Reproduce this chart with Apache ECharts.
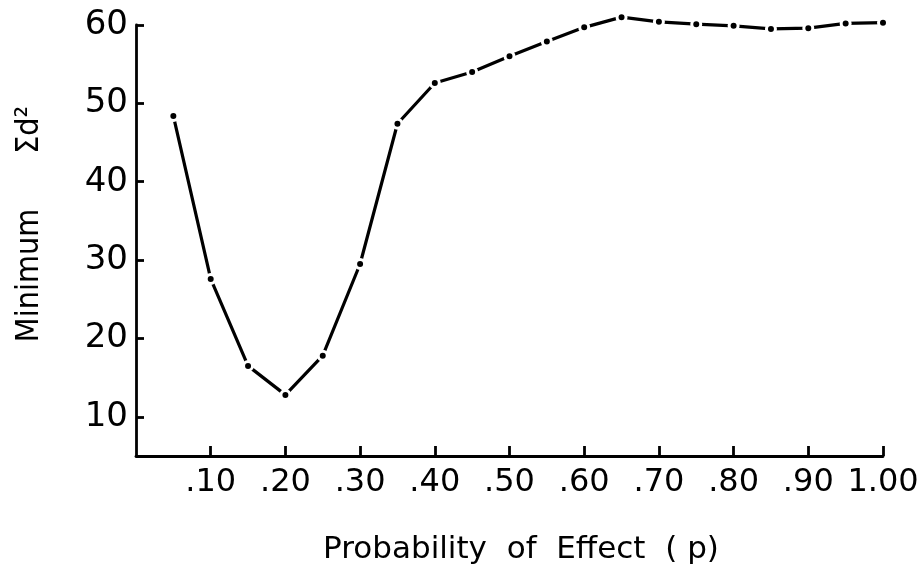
<!DOCTYPE html>
<html>
<head>
<meta charset="utf-8">
<script src="https://cdn.jsdelivr.net/npm/echarts@6/dist/echarts.min.js"></script>
<style>
html,body{margin:0;padding:0;background:#fff;}
#chart{width:923px;height:588px;}
</style>
</head>
<body>
<div id="chart"></div>
<script>
// Data
const probabilities = [0.05,0.10,0.15,0.20,0.25,0.30,0.35,0.40,0.45,0.50,0.55,0.60,0.65,0.70,0.75,0.80,0.85,0.90,0.95,1.00];
const minSumD2 = [48.4,27.6,16.5,12.8,17.8,29.5,47.4,52.6,54.0,56.0,57.9,59.7,61.0,60.4,60.1,59.9,59.5,59.6,60.2,60.3];
const xTickValues = [0.1,0.2,0.3,0.4,0.5,0.6,0.7,0.8,0.9,1.0];
const xTickLabels = ['.10','.20','.30','.40','.50','.60','.70','.80','.90','1.00'];
const yTickValues = [10,20,30,40,50,60];
const yTickLabels = ['10','20','30','40','50','60'];
const xTitle = 'Probability  of  Effect  ( p)';
const yTitle = 'Minimum      Σd²';

const seriesData = probabilities.map((p, i) => [p, minSumD2[i]]);
function lookup(values, labels, v) {
  let best = 0;
  for (let i = 0; i < values.length; i++) {
    if (Math.abs(values[i] - v) < Math.abs(values[best] - v)) best = i;
  }
  return labels[best];
}

const chart = echarts.init(document.getElementById('chart'), null, {renderer: 'canvas'});
const FONT = '"DejaVu Sans", sans-serif';
const COND = '"DejaVu Sans Condensed", "Liberation Sans Narrow", "DejaVu Sans", sans-serif';
chart.setOption({
  backgroundColor: '#fff',
  animation: false,
  grid: {left: 136, right: 40, top: 25, bottom: 132},
  xAxis: {
    type: 'value', min: 0, max: 1,
    axisLine: {show: true, onZero: false, lineStyle: {color: '#000', width: 2.8}},
    axisTick: {show: true, inside: true, length: 10, customValues: xTickValues, lineStyle: {color: '#000', width: 2.8}},
    axisLabel: {customValues: xTickValues, color: '#000', fontFamily: FONT, fontSize: 32, margin: 11,
      formatter: v => lookup(xTickValues, xTickLabels, v)},
    splitLine: {show: false}
  },
  yAxis: {
    type: 'value', min: 5, max: 60,
    axisLine: {show: true, onZero: false, lineStyle: {color: '#000', width: 2.8}},
    axisTick: {show: true, inside: true, length: 8, customValues: yTickValues, lineStyle: {color: '#000', width: 2.8}},
    axisLabel: {customValues: yTickValues, color: '#000', fontFamily: FONT, fontSize: 34, margin: 8,
      formatter: v => lookup(yTickValues, yTickLabels, v)},
    splitLine: {show: false}
  },
  series: [{
    type: 'line',
    data: seriesData,
    clip: false,
    symbol: 'circle',
    symbolSize: 9,
    itemStyle: {color: '#000', borderColor: '#fff', borderWidth: 3},
    lineStyle: {color: '#000', width: 3.2}
  }],
  graphic: [
    {type: 'text', x: 521, y: 550, style: {text: xTitle, fill: '#000', font: '31px ' + FONT, textAlign: 'center', textVerticalAlign: 'middle'}},
    {type: 'text', x: 30, y: 224, rotation: Math.PI / 2, style: {text: yTitle, fill: '#000', font: '32px ' + COND, textAlign: 'center', textVerticalAlign: 'middle'}}
  ]
});
</script>
</body>
</html>
